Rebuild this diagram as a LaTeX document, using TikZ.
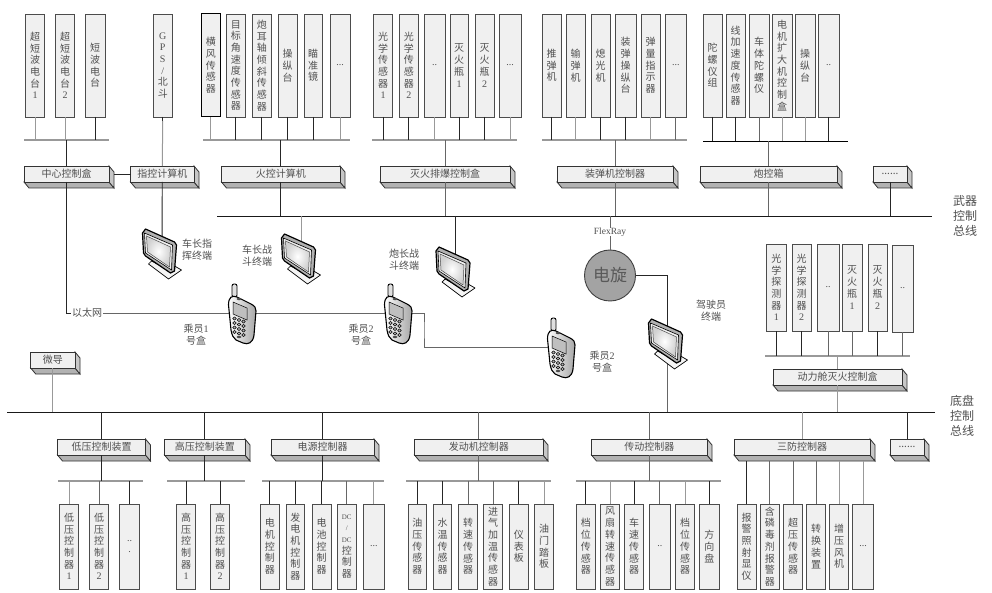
\documentclass[tikz,border=0pt]{standalone}
\usepackage{fontspec}
\setmainfont{Noto Sans CJK SC}
\newfontfamily\ltn{Liberation Serif}
\usetikzlibrary{calc}
\definecolor{boxfill}{HTML}{F0F0F0}
\definecolor{txt}{HTML}{505050}
\tikzset{
  kl/.style={draw=black!85,line width=0.9pt},
  gl/.style={draw=black!40,line width=1pt},
  ml/.style={draw=black!60,line width=0.9pt},
  sbus/.style={draw=black!40,line width=1.1pt},
  sbusk/.style={draw=black,line width=0.9pt},
  mbus/.style={draw=black!90,line width=0.9pt},
  vbx/.style={rectangle,draw=black!70,line width=0.9pt,fill=boxfill,inner sep=0pt,outer sep=0pt,text=txt,font=\fontsize{10}{12}\selectfont},
  cfront/.style={rectangle,draw=black!80,line width=0.9pt,fill=boxfill,inner sep=0pt,outer sep=0pt,text=txt,font=\fontsize{10}{12}\selectfont},
  lbl/.style={inner sep=0pt,outer sep=1pt,align=center,text=txt,font=\fontsize{10}{12.2}\selectfont},
  biglbl/.style={inner sep=0pt,align=center,text=txt,font=\fontsize{12}{15}\selectfont},
  dkbox/.style={draw=black,line width=1pt}
}
\makeatletter
\newcommand\stk[1]{\vbox{\baselineskip=11.7pt\lineskiplimit=-100pt\@tfor\tfch:=#1\do{\hbox to 14pt{\hss\tfch\hss}}}}
\makeatother
\newcommand\rowset[3]{\def\yA{#1}\def\yB{#2}\def\anc{#3}}
\newcommand\tallbox[6][]{%
  \node[vbx,minimum width={(#3-#2)*1pt},minimum height={(\yB-\yA)*1pt},#1] (#4) at ({(#2+#3)/2},{(\yA+\yB)/2}) {\stk{#5}};
  \draw[#6] (#4.\anc) -- (#4.\anc |- \curbus);}
\newcommand\usebusname[1]{\def\curbus{#1}}
\newcommand\busline[5]{\coordinate (#1) at (#2,#4);\coordinate (#1-e) at (#3,#4);\draw[#5] (#1) -- (#1-e);}
\newcommand\ctlbox[6]{%
  \filldraw[draw=black!80,line width=0.8pt,fill=black!30] (#2,#5) -- ({#2+5},{#5+6}) -- ({#3+5},{#5+6}) -- (#3,#5) -- cycle;
  \filldraw[draw=black!80,line width=0.8pt,fill=black!22] (#3,#4) -- ({#3+5},{#4+6}) -- ({#3+5},{#5+6}) -- (#3,#5) -- cycle;
  \node[cfront,minimum width={(#3-#2)*1pt},minimum height={(#5-#4)*1pt}] (#1) at ({(#2+#3)/2},{(#4+#5)/2}) {#6};}
\newcommand\monitor[2]{%
  \begin{scope}[shift={(#1,#2)}]
    \filldraw[draw=black,line width=0.7pt,fill=black!4,line join=round] (6,35) -- (26,50) -- (39,41) -- (32,37) -- (26,41) -- (9,32) -- cycle;
    \filldraw[draw=black,line width=1.2pt,fill=black!30,line join=round] (0,4) -- (3,0) -- (32,13) -- (34,16) -- (32,42) -- (28,44) -- (3,27) -- (1,24) -- cycle;
    \filldraw[draw=black,line width=0.6pt,fill=black!6,line join=round] (2,4) -- (30,16) -- (29,41) -- (3,24) -- cycle;
    \path[draw=black!70,line width=0.5pt,inner color=white,outer color=black!18] (4,7) -- (28,18) -- (27,38) -- (5,23) -- cycle;
  \end{scope}}
\newcommand\phone[2]{%
  \begin{scope}[shift={(#1,#2)}]
    \filldraw[draw=black,line width=0.9pt,fill=black!12,rounded corners=2pt] (4,14) -- (4,1) -- (9,1) -- (9,14) -- cycle;
    \path[draw=black,line width=1.1pt,left color=white,right color=black!35,line join=round]
      (0.5,22) .. controls (0.5,14) and (4,12) .. (9,14) -- (23,21) .. controls (27,23) and (28,25) .. (28,28)
      -- (26,52) .. controls (25,60) and (20,62) .. (15,60) -- (8,57) .. controls (5,55) and (4,52) .. (3,47) -- cycle;
    \filldraw[draw=black,line width=0.5pt,fill=black!25] (5,19) -- (19,25) -- (19,37) -- (5,31) -- cycle;
    \filldraw[black!70] (11,16) ellipse (2 and 1);
    \filldraw[black!70] (11,54) ellipse (2 and 1);
    \foreach \i in {0,1,2}{\foreach \j in {0,1,2,3}{
      \filldraw[draw=black,line width=0.5pt,fill=black!30] ({6.5+4.5*\i},{35.5+4.5*\j+1.5*\i}) ellipse (1.8 and 1.6);}}
  \end{scope}}
\begin{document}
\begin{tikzpicture}[x=1pt,y=-1pt]
\useasboundingbox (0,0) rectangle (992,593);
\fill[white] (0,0) rectangle (992,593);

%% Main buses
\busline{wb}{217}{932}{216}{mbus}
\busline{cb}{7}{935}{412}{mbus}

%% Phone / monitor anchors
\coordinate (m1) at (162,250);
\coordinate (m2) at (301,255);
\coordinate (m3) at (455.5,270);
\coordinate (m4) at (667.5,340);
\coordinate (p1) at (242,313);
\coordinate (p2) at (398,313);
\coordinate (p3) at (561,347);

%% Top sub-buses
\busline{s1}{24}{109}{140}{sbus}
\busline{s2}{203}{350}{140}{sbus}
\busline{s3}{372}{517}{140}{sbus}
\busline{s4}{542}{687}{140}{sbus}
\busline{s5}{703}{848}{141}{sbusk}

%% Top row
\rowset{14}{117}{south}
\usebusname{s1}
\tallbox{25.5}{44.5}{a1}{超短波电台{\ltn 1}}{gl}
\tallbox{55.5}{74.5}{a2}{超短波电台{\ltn 2}}{gl}
\tallbox{85}{105}{a3}{短波电台}{kl}
\node[vbx,minimum width=18.5pt,minimum height=103pt] (gps) at (162.75,65.5) {\stk{{\ltn G}{\ltn P}{\ltn S}{\ltn /}北斗}};
\usebusname{s2}
\tallbox[dkbox]{201.5}{220}{b1}{横风传感器}{gl}
\tallbox{226.5}{245}{b2}{目标角速度传感器}{kl}
\tallbox{252.5}{271}{b3}{炮耳轴倾斜传感器}{kl}
\tallbox{278}{297}{b4}{操纵台}{kl}
\tallbox{304}{322}{b5}{瞄准镜}{kl}
\tallbox{330}{350}{b6}{{\ltn ...}}{gl}
\usebusname{s3}
\tallbox{373.5}{392.5}{c1}{光学传感器{\ltn 1}}{kl}
\tallbox{399.5}{418}{c2}{光学传感器{\ltn 2}}{kl}
\tallbox{424}{445}{c3}{{\ltn ..}}{gl}
\tallbox{450}{468}{c4}{灭火瓶{\ltn 1}}{kl}
\tallbox{475}{494}{c5}{灭火瓶{\ltn 2}}{kl}
\tallbox{499}{521}{c6}{{\ltn ...}}{gl}
\usebusname{s4}
\tallbox{542}{561}{d1}{推弹机}{kl}
\tallbox{566}{585}{d2}{输弹机}{gl}
\tallbox{591}{610}{d3}{熄光机}{kl}
\tallbox{615}{636}{d4}{装弹操纵台}{kl}
\tallbox{641}{660}{d5}{弹量指示器}{gl}
\tallbox{665}{686.5}{d6}{{\ltn ...}}{ml}
\usebusname{s5}
\tallbox{703}{722}{e1}{陀螺仪组}{kl}
\tallbox{726}{745}{e2}{线加速度传感器}{kl}
\tallbox{749}{769}{e3}{车体陀螺仪}{ml}
\tallbox{772}{792}{e4}{电机扩大机控制盒}{gl}
\tallbox{795}{815}{e5}{操纵台}{gl}
\tallbox{818}{839}{e6}{{\ltn ..}}{kl}

%% Top controllers
\ctlbox{zx}{24}{109}{166}{182}{中心控制盒}
\ctlbox{zk}{130.5}{194}{166}{182}{指控计算机}
\ctlbox{hk}{221.5}{340}{166}{182}{火控计算机}
\ctlbox{mh}{380}{510}{166}{182}{灭火排爆控制盒}
\ctlbox{zd}{557}{673}{166}{182}{装弹机控制器}
\ctlbox{pk}{700}{837}{166}{182}{炮控箱}
\ctlbox{wd}{873}{907}{166}{182}{......}

\draw[kl] (zx.north) -- (zx.north |- s1);
\draw[kl] (gps.south) -- ($(gps.south)+(0,4)$);
\draw[gl] ($(gps.south)+(0,4)$) -- (zk.north);
\draw[kl] ($(zx.east)+(5,0)$) -- (zk.west);
\draw[kl] (hk.north) -- (hk.north |- s2);
\draw[ml] (mh.north) -- (mh.north |- s3);
\draw[ml] (zd.north) -- (zd.north |- s4);
\draw[ml] (pk.north) -- (pk.north |- s5);
\draw[kl] (hk.south) -- (hk.south |- wb);
\draw[ml] (mh.south) -- (mh.south |- wb);
\draw[ml] (zd.south) -- (zd.south |- wb);
\draw[ml] (pk.south) -- (pk.south |- wb);
\draw[kl] (wd.south) -- (wd.south |- wb);
\draw[kl] (zk.south) -- (m1);
\draw[gl] (m2 |- wb) -- (m2);
\draw[kl] (m3 |- wb) -- (m3);

%% Ethernet
\node[lbl,fill=white] (eth) at (87,313) {以太网};
\draw[kl] (zx.south) |- (eth.west);
\draw[ml] (eth.east) -- (p1);
\draw[ml] (p1) -- (p2);
\coordinate (ec) at (424,330);
\draw[ml] (p2) -| (ec) |- (p3);

%% Turntable
\node[circle,draw=black!75,line width=0.9pt,fill=black!36,minimum size=51pt,inner sep=0pt,text=black!65,font=\fontsize{17}{20}\selectfont] (dx) at (610,275.5) {电旋};
\draw[ml] (dx.north) -- (dx.north |- wb);
\node[lbl,fill=white,font=\ltn\fontsize{9.5}{11}\selectfont] (fr) at (610,232) {FlexRay};
\draw[kl] (dx.east) -| (m4);
\draw[ml] (m4) -- (m4 |- cb);

%% Terminals
\monitor{142.5}{229}
\monitor{281.5}{234}
\monitor{436}{247}
\monitor{648.5}{319}
\phone{228}{283}
\phone{384}{283}
\phone{547}{317}

\node[lbl] (t1) at (197,250) {车长指\\挥终端};
\node[lbl] (t2) at (257,256) {车长战\\斗终端};
\node[lbl] (t3) at (404,260) {炮长战\\斗终端};
\node[lbl] (t4) at (711,311) {驾驶员\\终端};
\node[lbl] (t5) at (196,335) {乘员{\ltn 1}\\号盒};
\node[lbl] (t6) at (361,335) {乘员{\ltn 2}\\号盒};
\node[lbl] (t7) at (602,362) {乘员{\ltn 2}\\号盒};
\node[biglbl] (wl) at (965,216) {武器\\控制\\总线};
\node[biglbl] (dl) at (962,416) {底盘\\控制\\总线};

%% Engine-room fire group
\busline{s6}{765}{910}{356}{sbus}
\rowset{244}{331}{south}
\usebusname{s6}
\tallbox{766.7}{786}{f1}{光学探测器{\ltn 1}}{kl}
\tallbox{792}{811}{f2}{光学探测器{\ltn 2}}{kl}
\tallbox{817}{839}{f3}{{\ltn ..}}{ml}
\tallbox{842}{862}{f4}{灭火瓶{\ltn 1}}{ml}
\tallbox{868}{887}{f5}{灭火瓶{\ltn 2}}{kl}
\rowset{245}{332}{south}
\tallbox{892}{913}{f6}{{\ltn ..}}{ml}
\ctlbox{dh}{773}{902}{369}{385}{动力舱灭火控制盒}
\draw[gl] (dh.north) -- (dh.north |- s6);
\draw[gl] (dh.south) -- (dh.south |- cb);

%% Micro guidance
\ctlbox{wg}{30.7}{75}{352}{368}{微导}
\draw[gl] (wg.south) -- (wg.south |- cb);

%% Bottom controllers
\ctlbox{dy}{57.5}{145.5}{439}{455}{低压控制装置}
\ctlbox{gy}{164.5}{245}{439}{455}{高压控制装置}
\ctlbox{dn}{271}{374}{439}{455}{电源控制器}
\ctlbox{fd}{414.5}{543}{439}{455}{发动机控制器}
\ctlbox{cd}{591.5}{707}{439}{455}{传动控制器}
\ctlbox{sf}{734}{870}{439}{455}{三防控制器}
\ctlbox{wx}{890}{924}{439}{455}{......}
\foreach \c in {dy,gy,dn,wx}{\draw[kl] (\c.north) -- (\c.north |- cb);}
\foreach \c in {fd,cd}{\draw[ml] (\c.north) -- (\c.north |- cb);}
\draw[gl] (sf.north) -- (sf.north |- cb);

%% Bottom sub-buses
\busline{q1}{58}{143}{481}{sbus}
\busline{q2}{167}{245}{481}{sbus}
\busline{q3}{262}{384}{481}{sbus}
\busline{q4}{406}{551}{481}{sbus}
\busline{q5}{576}{720.5}{481}{sbus}
\coordinate (q6) at (800,461);
\draw[kl] (dy.south) -- (dy.south |- q1);
\draw[kl] (gy.south) -- (gy.south |- q2);
\draw[kl] (dn.south) -- (dn.south |- q3);
\draw[ml] (fd.south) -- (fd.south |- q4);
\draw[ml] (cd.south) -- (cd.south |- q5);

%% Bottom row
\rowset{504}{589}{north}
\usebusname{q1}
\tallbox{59.5}{78.5}{g1}{低压控制器{\ltn 1}}{gl}
\tallbox{89.5}{108.5}{g2}{低压控制器{\ltn 2}}{ml}
\tallbox{119.5}{139.5}{g3}{{\ltn ..}{\ltn .}}{kl}
\usebusname{q2}
\tallbox{176.5}{195.5}{h1}{高压控制器{\ltn 1}}{kl}
\tallbox{210.5}{229.5}{h2}{高压控制器{\ltn 2}}{kl}
\usebusname{q3}
\tallbox{260.5}{279}{i1}{电机控制器}{kl}
\tallbox{286}{304.5}{i2}{发电机控制器}{kl}
\tallbox{312}{331}{i3}{电池控制器}{kl}
\tallbox{337.5}{356}{i4}{{\ltn\fontsize{7}{8}\selectfont DC}{\ltn\fontsize{7}{8}\selectfont /}{\ltn\fontsize{7}{8}\selectfont DC}控制器}{ml}
\tallbox{363.5}{384}{i5}{{\ltn ...}}{gl}
\usebusname{q4}
\tallbox{408}{426.5}{j1}{油压传感器}{kl}
\tallbox{433.5}{451.5}{j2}{水温传感器}{kl}
\tallbox{458.5}{477.5}{j3}{转速传感器}{ml}
\tallbox{483.5}{502.5}{j4}{进气加温传感器}{ml}
\tallbox{509.5}{528}{j5}{仪表板}{kl}
\tallbox{534.5}{553.5}{j6}{油门踏板}{gl}
\usebusname{q5}
\tallbox{576.5}{595}{k1}{档位传感器}{kl}
\tallbox{600.5}{619.5}{k2}{风扇转速传感器}{gl}
\tallbox{624.5}{643.5}{k3}{车速传感器}{kl}
\tallbox{649.5}{670}{k4}{{\ltn ..}}{ml}
\tallbox{675.5}{694.5}{k5}{档位传感器}{gl}
\tallbox{699.5}{719}{k6}{方向盘}{kl}
\usebusname{q6}
\tallbox{737}{756}{l1}{报警照射显仪}{kl}
\tallbox{760}{779.5}{l2}{含磷毒剂报警器}{ml}
\tallbox{783.5}{802.5}{l3}{超压传感器}{ml}
\tallbox{806.5}{825.5}{l4}{转换装置}{ml}
\tallbox{829.5}{848.5}{l5}{增压风机}{gl}
\tallbox{852.5}{873.5}{l6}{{\ltn ...}}{gl}
\end{tikzpicture}
\end{document}
